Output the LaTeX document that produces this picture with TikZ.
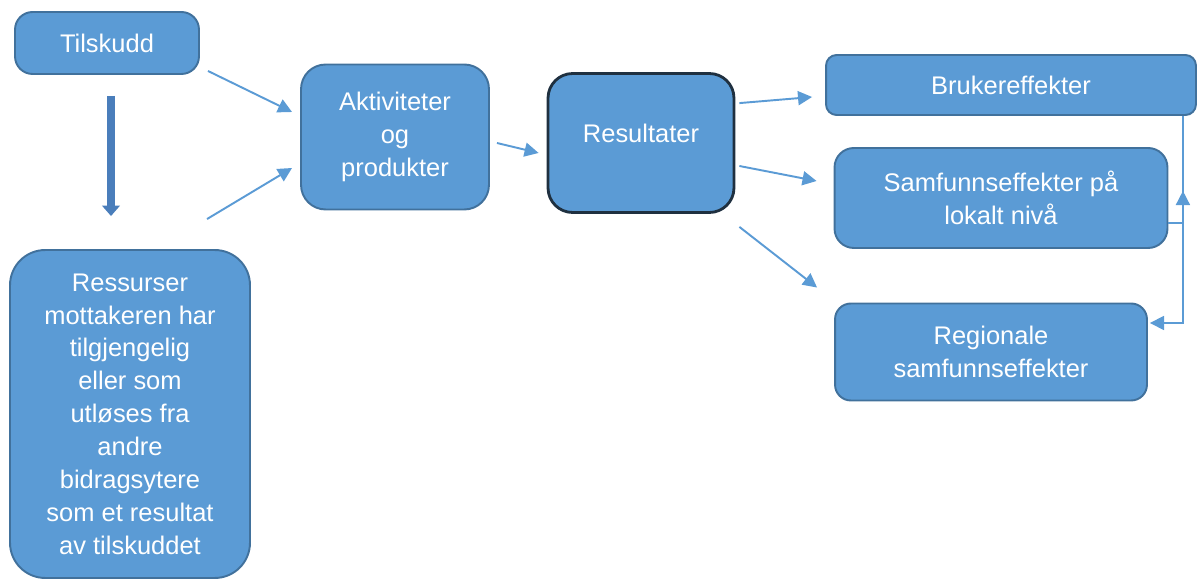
\documentclass[tikz,border=0pt]{standalone}
\usepackage{fontspec}
\setmainfont{Liberation Sans}
\usetikzlibrary{arrows.meta,calc}

\definecolor{boxfill}{HTML}{5B9BD5}
\definecolor{boxline}{HTML}{41719C}
\definecolor{darkline}{HTML}{1F3040}
\definecolor{thinline}{HTML}{5B9BD5}
\definecolor{fatarrow}{HTML}{4A7EBB}

\begin{document}
\begin{tikzpicture}
[
	x=0.02cm, y=-0.02cm,
	box/.style={rectangle,draw=boxline,line width=1.1pt,fill=boxfill,text=white,
		align=center,font=\fontsize{14.5}{18.7}\selectfont,inner sep=0pt},
	conn/.style={thinline,line width=1.1pt,-{Triangle[length=8pt,width=8pt]}}
]

	\useasboundingbox (0,0) rectangle (1197,580);

	% boxes
	\node[box,rounded corners=10pt,minimum width=3.68cm,minimum height=1.24cm]
	  (til) at (107,43) {Tilskudd};
	\node[box,rounded corners=20pt,minimum width=4.8cm,minimum height=6.56cm]
	  (ress) at (130,414) {Ressurser\\mottakeren har\\tilgjengelig\\eller som\\utløses fra\\andre\\bidragsytere\\som et resultat\\av tilskuddet};
	\node[box,rounded corners=14pt,minimum width=3.76cm,minimum height=2.9cm]
	  (akt) at (395,137) {Aktiviteter\\og\\produkter};
	\node[box,draw=darkline,line width=1.6pt,rounded corners=14pt,
	  minimum width=3.72cm,minimum height=2.78cm,text depth=0.4cm]
	  (res) at (641,143) {Resultater};
	\node[box,rounded corners=6pt,minimum width=7.4cm,minimum height=1.2cm]
	  (bru) at (1011,85) {Brukereffekter};
	\node[box,rounded corners=11pt,minimum width=6.66cm,minimum height=2cm]
	  (sam) at (1001,198) {Samfunnseffekter på\\lokalt nivå};
	\node[box,rounded corners=9pt,minimum width=6.24cm,minimum height=1.94cm]
	  (reg) at (991,352) {Regionale\\samfunnseffekter};

	% arrows on the left
	\draw[fatarrow,line width=4.5pt,-{Triangle[length=6pt,width=10pt]}]
	  ($(til.south)+(4,21)$) -- ($(ress.north)+(-19,-33)$);
	\draw[conn] ($(til.south east)+(8,-4)$) -- ($(akt.west)+(-8,-25)$);
	\draw[conn] ($(ress.north)+(77,-30)$) -- ($(akt.west)+(-8,31)$);
	\draw[conn] ($(akt.east)+(7,6)$) -- ($(res.west)+(-8,10)$);

	% arrows to the effects
	\draw[conn] ($(res.north east)+(4,31)$) -- ($(bru.west)+(-13,12)$);
	\draw[conn] ($(res.east)+(4,23)$) -- ($(sam.west)+(-17,-17)$);
	\draw[conn] ($(res.south east)+(4,13)$) -- ($(reg.north west)+(-17,-15)$);

	% links between the effects
	\draw[conn,line width=0.9pt] ($(bru.south east)+(-14,0)$) |- ($(reg.east)+(2,-29)$);
	\draw[conn,line width=0.9pt] ($(sam.east)+(0,25)$) -| ($(bru.south east)+(-14,75)$);

\end{tikzpicture}
\end{document}
